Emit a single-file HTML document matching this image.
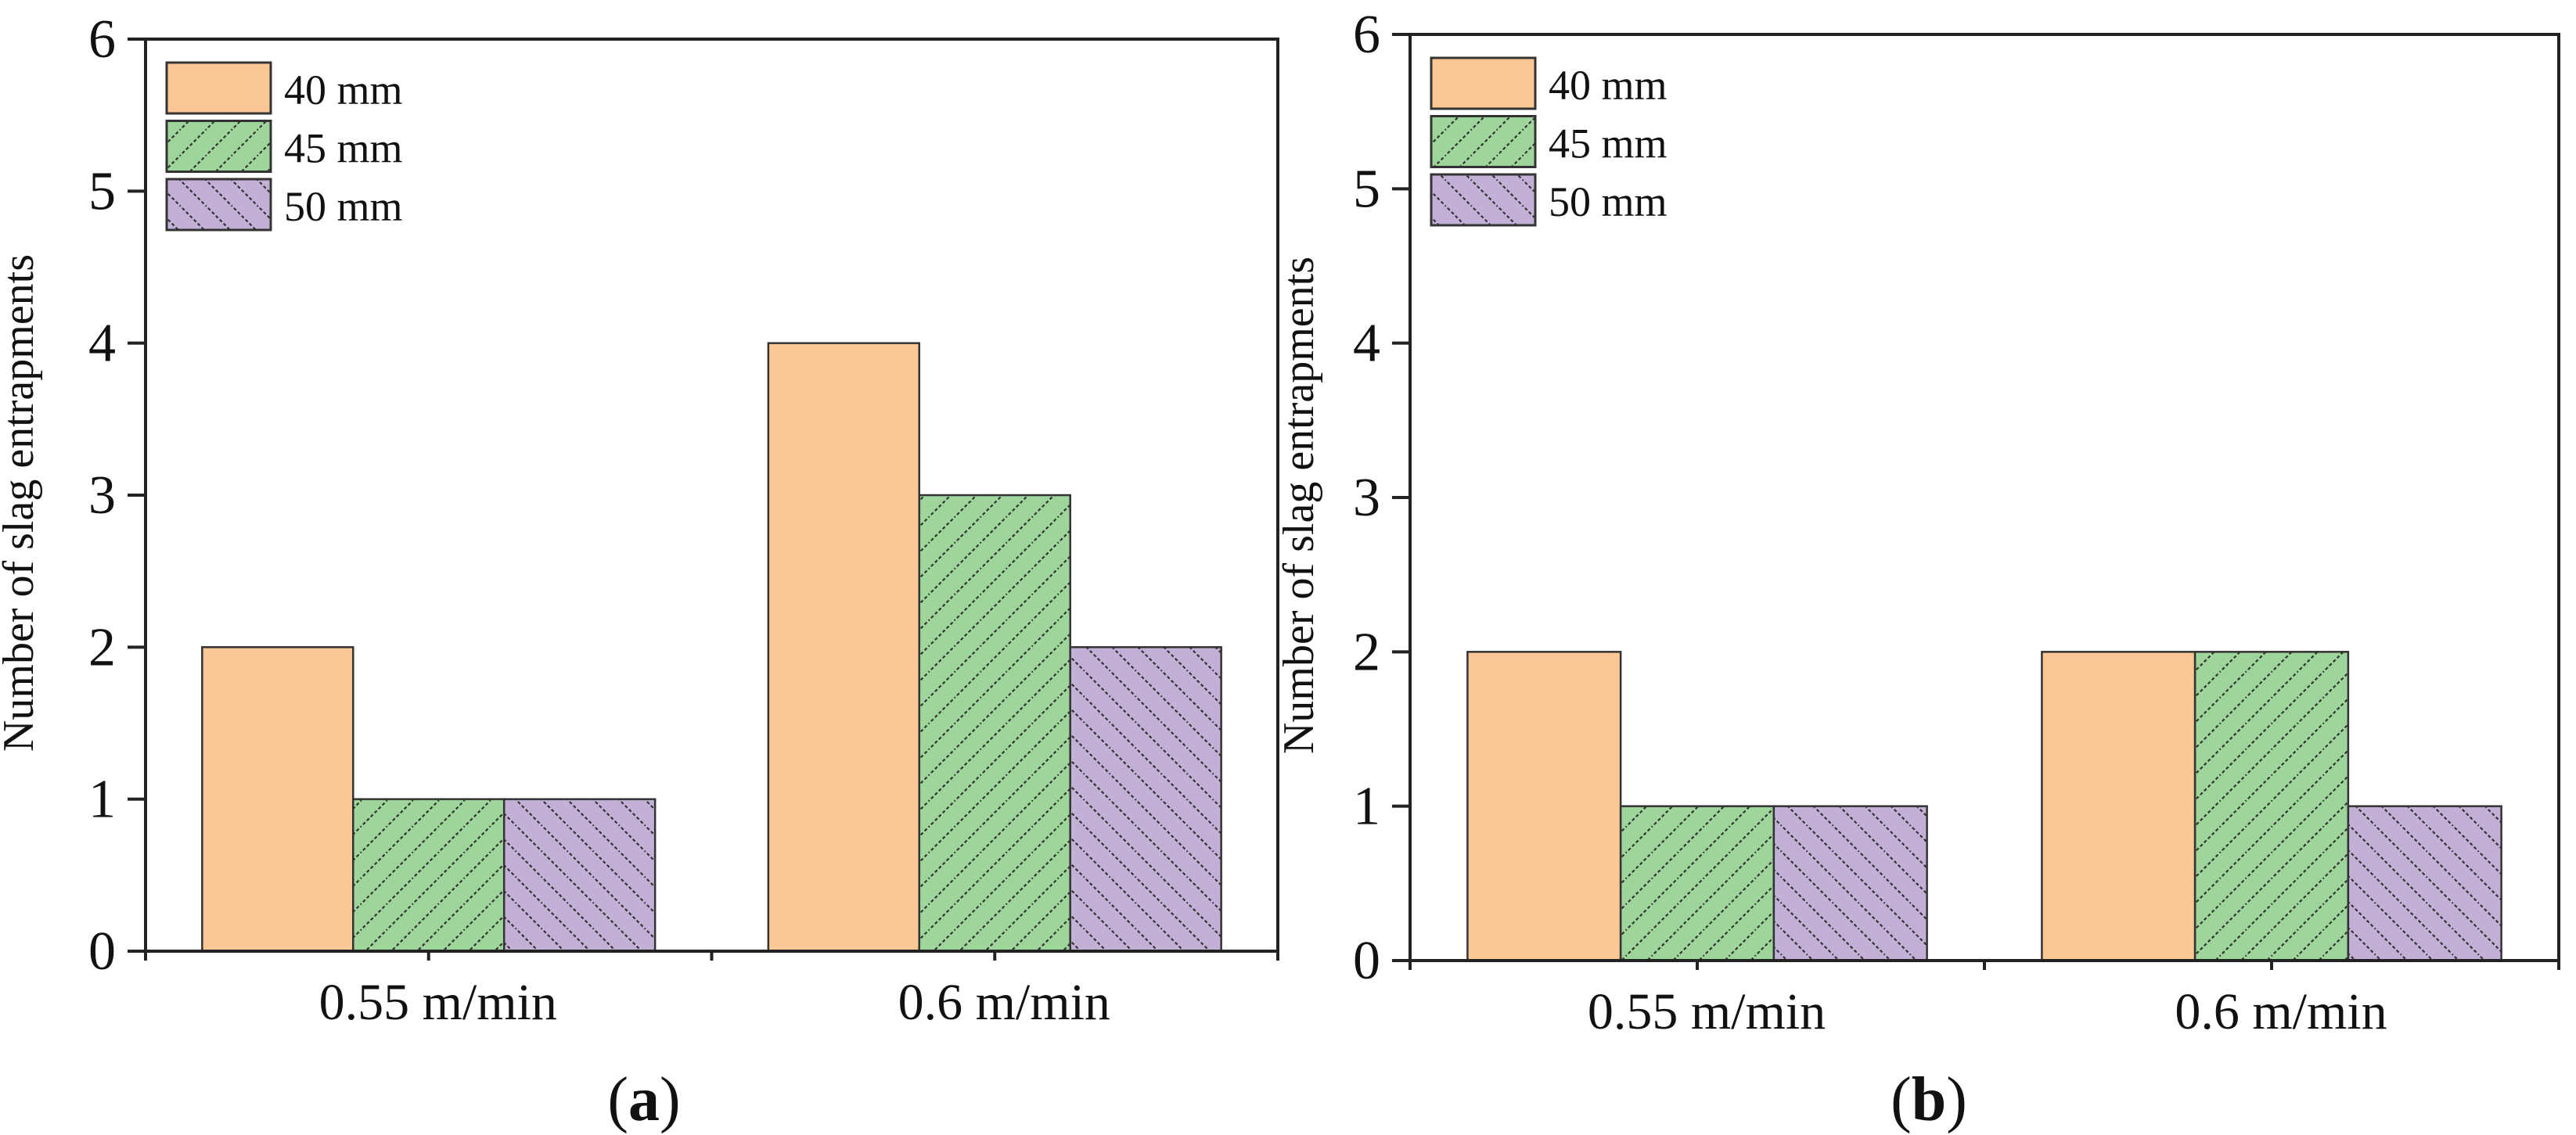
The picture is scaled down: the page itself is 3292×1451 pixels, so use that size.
<!DOCTYPE html>
<html><head><meta charset="utf-8"><style>
html,body{margin:0;padding:0;background:#fff;}
svg{display:block;font-family:"Liberation Serif",serif;}
</style></head><body>
<svg id="fig" width="3292" height="1451" viewBox="0 0 3292 1451" xmlns="http://www.w3.org/2000/svg">
<defs>
<pattern id="hatchG" patternUnits="userSpaceOnUse" width="33" height="33" patternTransform="rotate(0)">
<rect width="33" height="33" fill="#9ED59A"/>
<path d="M-8,41 L41,-8 M-8,8 L8,-8 M25,41 L41,25" stroke="#333" stroke-width="2.2" stroke-dasharray="4,3"/>
</pattern>
<pattern id="hatchP" patternUnits="userSpaceOnUse" width="33" height="33">
<rect width="33" height="33" fill="#C2B0D6"/>
<path d="M-8,-8 L41,41 M25,-8 L41,8 M-8,25 L8,41" stroke="#333" stroke-width="2.2" stroke-dasharray="4,3"/>
</pattern>
</defs>
<g id="panelA"></g>
<g id="panelB"></g>
</svg>
<script>
const categories = ["0.55 m/min", "0.6 m/min"];
const seriesNames = ["40 mm", "45 mm", "50 mm"];
const valuesA40 = [2, 4];
const valuesA45 = [1, 3];
const valuesA50 = [1, 2];
const valuesB40 = [2, 2];
const valuesB45 = [1, 2];
const valuesB50 = [1, 1];
const yTicks = [0, 1, 2, 3, 4, 5, 6];
const yTitle = "Number of slag entrapments";

const NS = "http://www.w3.org/2000/svg";
const fills = ["#FAC795", "url(#hatchG)", "url(#hatchP)"];
function mk(tag, attrs, parent) {
  const e = document.createElementNS(NS, tag);
  for (const k in attrs) e.setAttribute(k, attrs[k]);
  parent.appendChild(e);
  return e;
}
function drawPanel(g, L, R, T, B, series, label, labelX, titleX, key) {
  const yMax = 6;
  const yS = v => B - (v / yMax) * (B - T);
  const band = (R - L) / categories.length;
  const xC = i => L + band * (i + 0.5);
  const bw = band * 0.8 / 3;
  // bars
  series.forEach((vals, s) => {
    vals.forEach((v, i) => {
      const x = xC(i) - 1.5 * bw + s * bw;
      const r = mk("rect", {x: x, y: yS(v), width: bw, height: yS(0) - yS(v), fill: fills[s], stroke: "#333", "stroke-width": 2.5}, g);
      
      
    });
  });
  // frame
  const f = mk("rect", {x: L, y: T, width: R - L, height: B - T, fill: "none", stroke: "#222", "stroke-width": 4}, g);
  
  
  // y ticks
  yTicks.forEach(t => {
    mk("line", {x1: L - 23, x2: L, y1: yS(t), y2: yS(t), stroke: "#222", "stroke-width": 4}, g);
    const tx = mk("text", {x: L - 38, y: yS(t) + 23, "font-size": 70, "text-anchor": "end", fill: "#111"}, g);
    tx.textContent = t;
    
    
  });
  // x ticks
  for (let i = 0; i <= categories.length * 2; i++) {
    const x = L + (R - L) * i / (categories.length * 2);
    mk("line", {x1: x, x2: x, y1: B, y2: B + 12, stroke: "#222", "stroke-width": 4}, g);
  }
  categories.forEach((c, i) => {
    const tx = mk("text", {x: xC(i) + 12, y: B + 87, "font-size": 66, "text-anchor": "middle", fill: "#111"}, g);
    tx.textContent = c;
    
    
  });
  // y title
  const yt = mk("text", {x: titleX, y: (T + B) / 2 + 10, "font-size": 56, "text-anchor": "middle", fill: "#111", transform: "rotate(-90 " + titleX + " " + ((T + B) / 2 + 10) + ")"}, g);
  yt.textContent = yTitle;
  
  
  // legend
  seriesNames.forEach((n, s) => {
    const ly = T + 30 + s * 74.5;
    const lr = mk("rect", {x: L + 27, y: ly, width: 133, height: 65, fill: fills[s], stroke: "#333", "stroke-width": 3}, g);
    
    
    const lt = mk("text", {x: L + 177, y: ly + 53, "font-size": 54, fill: "#111"}, g);
    lt.textContent = n;
    
    
  });
  // panel label
  const pl = mk("text", {x: labelX, y: 1432, "font-size": 80, "text-anchor": "middle", fill: "#111"}, g);
  pl.innerHTML = '(<tspan font-weight="bold">' + label + '</tspan>)';
  
  
}
drawPanel(document.getElementById("panelA"), 186, 1633, 50, 1216, [valuesA40, valuesA45, valuesA50], "a", 823, 42, "a");
drawPanel(document.getElementById("panelB"), 1802, 3270, 44, 1228, [valuesB40, valuesB45, valuesB50], "b", 2465, 1678, "b");
</script>
</body></html>
